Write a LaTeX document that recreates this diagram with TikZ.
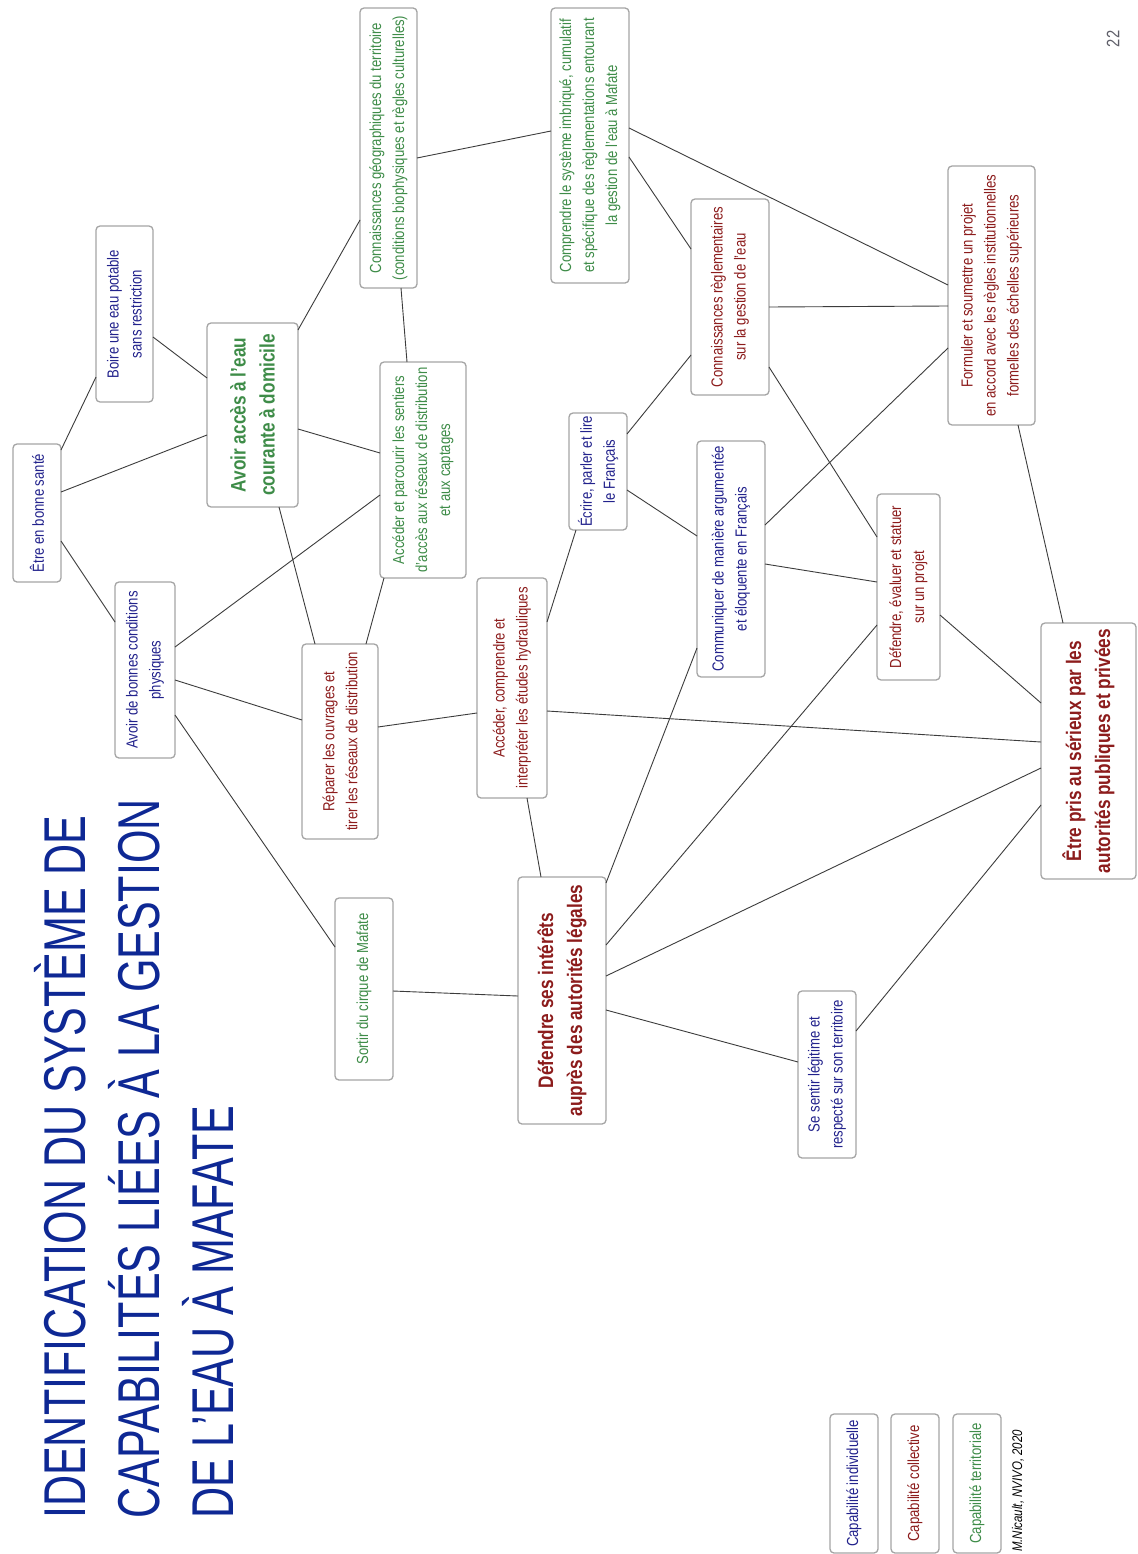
\documentclass[tikz,border=0pt]{standalone}
\usepackage{fontspec}
\setmainfont{Liberation Sans}[FakeStretch=0.82]
\newfontfamily\titlefont{Liberation Sans}[FakeStretch=0.73]
\usetikzlibrary{calc}
\definecolor{cblue}{RGB}{34,34,140}
\definecolor{cred}{RGB}{140,28,28}
\definecolor{cgreen}{RGB}{62,140,72}
\definecolor{ctitle}{RGB}{14,40,148}
\definecolor{cborder}{RGB}{165,165,165}
\definecolor{cline}{RGB}{60,60,60}
\definecolor{cnum}{RGB}{95,95,105}
\tikzset{
  capbox/.style={draw=cborder, line width=1.3pt, rounded corners=4pt, fill=white,
    rotate=90, align=center, inner sep=0pt, font=\fontsize{16}{23}\selectfont},
  bigbox/.style={capbox, font=\fontsize{21}{29}\selectfont\bfseries},
  conn/.style={draw=cline, line width=0.9pt},
  titleline/.style={rotate=90, anchor=base west, inner sep=0pt, text=ctitle,
    font=\titlefont\fontsize{59}{74}\selectfont},
}
\newcommand\lnk[4]{\draw[conn] ($(#1.center)+(#2)$) -- ($(#3.center)+(#4)$);}
\begin{document}
\begin{tikzpicture}[x=1pt,y=-1pt]
\useasboundingbox (0,0) rectangle (1137,1554);
\fill[white] (0,0) rectangle (1137,1554);

% title
\node[titleline] (t1) at (85,1519) {IDENTIFICATION DU SYSTÈME DE};
\node[titleline] (t2) at (159,1519) {CAPABILITÉS LIÉES À LA GESTION};
\node[titleline] (t3) at (233,1519) {DE L’EAU À MAFATE};

% page number
\node[rotate=90, inner sep=0pt, text=cnum, font=\fontsize{18}{20}\selectfont] (pnum) at (1113,39) {22};

% nodes
\node[capbox, minimum width=138pt, minimum height=48pt, text=cblue] (sante) at (37,513) {Être en bonne santé};
\node[capbox, minimum width=176pt, minimum height=57pt, text=cblue] (boire) at (124.5,314) {Boire une eau potable\\sans restriction};
\node[bigbox, minimum width=184pt, minimum height=91pt, text=cgreen] (acces) at (252.5,415) {Avoir accès à l’eau\\courante à domicile};
\node[capbox, minimum width=280pt, minimum height=57pt, text=cgreen] (geo) at (388.5,148) {Connaissances géographiques du territoire\\(conditions biophysiques et règles culturelles)};
\node[capbox, minimum width=275pt, minimum height=78pt, text=cgreen] (compr) at (590,145.5) {Comprendre le système imbriqué, cumulatif\\et spécifique des règlementations entourant\\la gestion de l’eau à Mafate};
\node[capbox, minimum width=176pt, minimum height=60pt, text=cblue] (physiq) at (145,670) {Avoir de bonnes conditions\\physiques};
\node[capbox, minimum width=216pt, minimum height=86pt, text=cgreen] (sentiers) at (423,470) {Accéder et parcourir les sentiers\\d’accès aux réseaux de distribution\\et aux captages};
\node[capbox, minimum width=195pt, minimum height=76pt, text=cred] (reparer) at (340,741.5) {Réparer les ouvrages et\\tirer les réseaux de distribution};
\node[capbox, minimum width=182pt, minimum height=58pt, text=cgreen] (sortir) at (364,989) {Sortir du cirque de Mafate};
\node[bigbox, minimum width=247pt, minimum height=88pt, text=cred] (defint) at (562,1000.5) {Défendre ses intérêts\\auprès des autorités légales};
\node[capbox, minimum width=220pt, minimum height=70pt, text=cred] (etudes) at (512,688) {Accéder, comprendre et\\interpréter les études hydrauliques};
\node[capbox, minimum width=117pt, minimum height=58pt, text=cblue] (ecrire) at (598,471.5) {Écrire, parler et lire\\le Français};
\node[capbox, minimum width=196pt, minimum height=78pt, text=cred] (regl) at (730,297) {Connaissances règlementaires\\sur la gestion de l’eau};
\node[capbox, minimum width=236pt, minimum height=68pt, text=cblue] (commun) at (731,559) {Communiquer de manière argumentée\\et éloquente en Français};
\node[capbox, minimum width=186pt, minimum height=63pt, text=cred] (evaluer) at (908.5,587) {Défendre, évaluer et statuer\\sur un projet};
\node[capbox, minimum width=259pt, minimum height=87pt, text=cred] (formuler) at (991.5,295.5) {Formuler et soumettre un projet\\en accord avec les règles institutionnelles\\formelles des échelles supérieures};
\node[bigbox, minimum width=256pt, minimum height=95pt, text=cred] (serieux) at (1088.5,751) {Être pris au sérieux par les\\autorités publiques et privées};
\node[capbox, minimum width=167pt, minimum height=58pt, text=cblue] (legit) at (827,1074.5) {Se sentir légitime et\\respecté sur son territoire};

% legend
\node[capbox, minimum width=139pt, minimum height=48pt, text=cblue] (leg1) at (854,1483.5) {Capabilité individuelle};
\node[capbox, minimum width=139pt, minimum height=48pt, text=cred] (leg2) at (915,1483.5) {Capabilité collective};
\node[capbox, minimum width=139pt, minimum height=48pt, text=cgreen] (leg3) at (977,1483.5) {Capabilité territoriale};
\node[rotate=90, anchor=base west, inner sep=0pt, font=\fontsize{14}{16}\selectfont\itshape] (credit) at (1022,1552) {M.Nicault, NVIVO, 2020};

% connectors
\lnk{sante}{24,-63}{boire}{-28.5,63}
\lnk{sante}{24,-21}{acces}{-45.5,20}
\lnk{sante}{24,28}{physiq}{-30,-48}
\lnk{boire}{28.5,23}{acces}{-45.5,-37}
\lnk{acces}{45.5,-85}{geo}{-28.5,72}
\lnk{acces}{45.5,14}{sentiers}{-43,-17}
\lnk{acces}{26.5,92}{reparer}{-25,-97.5}
\lnk{geo}{12.5,140}{sentiers}{-16,-108}
\lnk{geo}{28.5,10}{compr}{-39,-14.5}
\lnk{physiq}{30,-23}{sentiers}{-43,25}
\lnk{physiq}{30,10}{reparer}{-38,-21.5}
\lnk{physiq}{30,45}{sortir}{-29,-42}
\lnk{sentiers}{-39,108}{reparer}{26,-97.5}
\lnk{reparer}{38,-14.5}{etudes}{-35,25}
\lnk{etudes}{35,23}{serieux}{-47.5,-9}
\lnk{etudes}{35,-66}{ecrire}{-22,58.5}
\lnk{etudes}{15,110}{defint}{-21,-123.5}
\lnk{ecrire}{29,-37.5}{regl}{-39,58}
\lnk{ecrire}{29,18.5}{commun}{-34,-23}
\lnk{compr}{39,11.5}{regl}{-39,-48}
\lnk{compr}{39,-17.5}{formuler}{-43.5,-10.5}
\lnk{regl}{39,10}{formuler}{-43.5,10.5}
\lnk{regl}{39,70}{evaluer}{-31.5,-50}
\lnk{formuler}{-43.5,52.5}{commun}{34,-34}
\lnk{formuler}{26.5,129.5}{serieux}{-25.5,-128}
\lnk{commun}{34,5}{evaluer}{-31.5,-5}
\lnk{commun}{-34,89}{defint}{44,-117.5}
\lnk{evaluer}{-31.5,38}{defint}{44,-55.5}
\lnk{evaluer}{31.5,28}{serieux}{-47.5,-48}
\lnk{defint}{44,-24.5}{serieux}{-47.5,17}
\lnk{sortir}{29,2}{defint}{-44,-4.5}
\lnk{defint}{44,9.5}{legit}{-29,-12.5}
\lnk{legit}{29,-43.5}{serieux}{-47.5,54}
\end{tikzpicture}
\end{document}
